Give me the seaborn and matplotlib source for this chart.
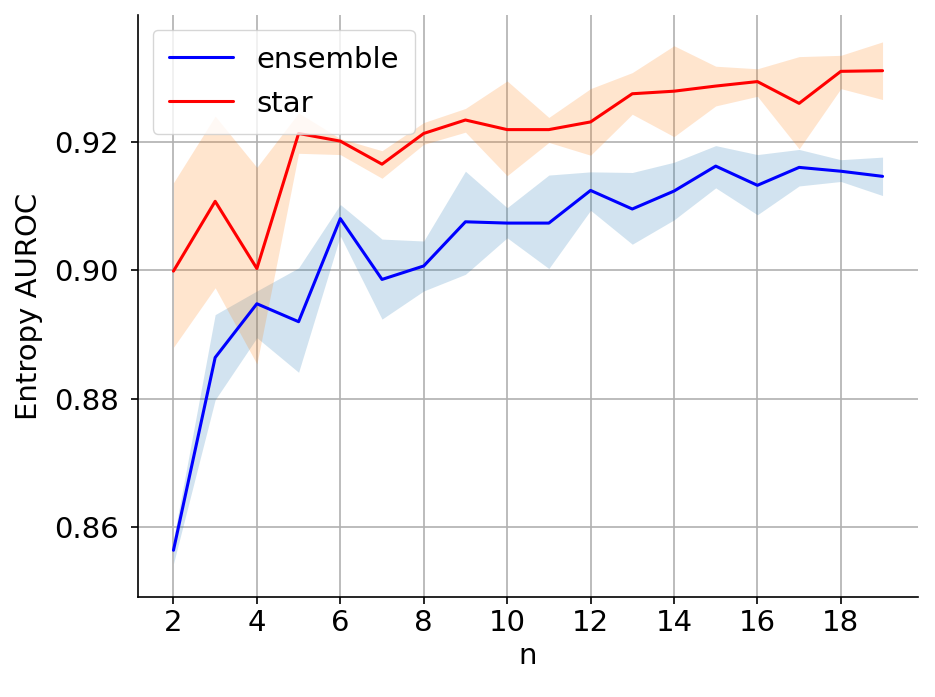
import matplotlib
matplotlib.use("Agg")
import matplotlib.pyplot as plt
import seaborn as sns
import numpy as np
import pandas as pd

n_values = list(range(2, 20))

ensemble_mean = [0.8563, 0.8864, 0.8948, 0.8920, 0.9081, 0.8986, 0.9007, 0.9076, 0.9074,
                 0.9074, 0.9125, 0.9096, 0.9124, 0.9163, 0.9133, 0.9161, 0.9155, 0.9147]
ensemble_upper = [0.8580, 0.8931, 0.8968, 0.9004, 0.9103, 0.9049, 0.9046, 0.9155, 0.9098,
                  0.9149, 0.9154, 0.9153, 0.9169, 0.9195, 0.9181, 0.9189, 0.9173, 0.9177]
ensemble_lower = [0.8542, 0.8798, 0.8895, 0.8841, 0.9054, 0.8924, 0.8968, 0.8994, 0.9051,
                  0.9003, 0.9094, 0.9041, 0.9079, 0.9129, 0.9087, 0.9132, 0.9139, 0.9117]

star_mean = [0.8999, 0.9108, 0.9003, 0.9214, 0.9202, 0.9166, 0.9214, 0.9235, 0.9220,
             0.9220, 0.9232, 0.9276, 0.9280, 0.9288, 0.9295, 0.9261, 0.9311, 0.9312]
star_upper = [0.9137, 0.9241, 0.9161, 0.9246, 0.9206, 0.9187, 0.9231, 0.9253, 0.9296,
              0.9239, 0.9284, 0.9309, 0.9351, 0.9319, 0.9315, 0.9334, 0.9336, 0.9357]
star_lower = [0.8880, 0.8973, 0.8854, 0.9183, 0.9181, 0.9144, 0.9197, 0.9216, 0.9148,
              0.9200, 0.9180, 0.9244, 0.9209, 0.9257, 0.9272, 0.9190, 0.9284, 0.9267]

sns.set_style("ticks")
plt.rcParams['font.family'] = ['DejaVu Sans']
plt.rcParams['text.color'] = 'black'
plt.rcParams['axes.labelcolor'] = 'black'
plt.rcParams['xtick.color'] = 'black'
plt.rcParams['ytick.color'] = 'black'
plt.rcParams['axes.edgecolor'] = 'black'

fig = plt.figure(figsize=(9.35, 6.97), dpi=100)
ax = fig.add_axes([138/935, 1 - 597/697, (918-138)/935, (597-15)/697])

df = pd.DataFrame({
    "n": n_values * 2,
    "auroc": ensemble_mean + star_mean,
    "method": ["ensemble"] * len(n_values) + ["star"] * len(n_values),
})

ax.fill_between(n_values, ensemble_lower, ensemble_upper, color="tab:blue", alpha=0.2, linewidth=0)
ax.fill_between(n_values, star_lower, star_upper, color="tab:orange", alpha=0.2, linewidth=0)
sns.lineplot(data=df, x="n", y="auroc", hue="method", palette={"ensemble": "blue", "star": "red"},
             ax=ax, linewidth=2.2)

ax.set_xlim(1.15, 19.85)
ax.set_ylim(0.8490, 0.9399)
ax.set_xticks([2, 4, 6, 8, 10, 12, 14, 16, 18])
ax.set_yticks([0.86, 0.88, 0.90, 0.92])
ax.set_yticklabels(["0.86", "0.88", "0.90", "0.92"])
ax.grid(True, color="#b0b0b0", linewidth=1.2)
ax.set_axisbelow(True)
sns.despine(ax=ax)
ax.spines["left"].set_linewidth(1.2)
ax.spines["bottom"].set_linewidth(1.2)
ax.tick_params(labelsize=21, width=1.2, length=5)
ax.tick_params(axis="y", pad=9)
ax.set_xlabel("n", fontsize=21)
ax.set_ylabel("Entropy AUROC", fontsize=21, labelpad=8)
leg = ax.legend(loc="upper left", fontsize=21, title=None, borderpad=0.55, handlelength=2.2,
                labelspacing=0.55, borderaxespad=0.5)

fig.savefig("out.png", dpi=100)
